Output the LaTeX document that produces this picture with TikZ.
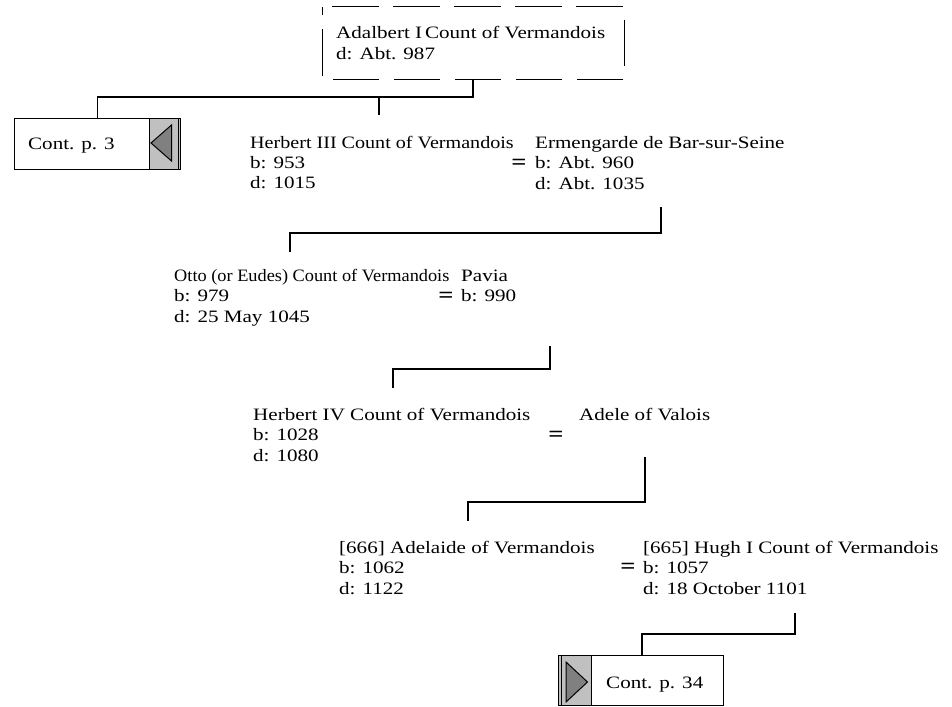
\documentclass[tikz,border=0pt]{standalone}
\usepackage{fontspec}
\usepackage{graphicx}
\setmainfont{Liberation Serif}[FakeStretch=1.21]
\definecolor{btngray}{HTML}{C0C0C0}
\definecolor{trigray}{HTML}{808080}
\newcommand\plines[1]{\vtop{\baselineskip=20.5pt\lineskiplimit=-30pt\lineskip=0pt #1}}
\begin{document}
\begin{tikzpicture}[x=1pt,y=-1pt,
  font=\fontsize{17.4}{20.5}\selectfont,
  person/.style={anchor=base west, inner sep=0pt},
  marr/.style={anchor=base, inner sep=0pt, font=\fontsize{22}{24}\selectfont\bfseries},
  link/.style={draw=black, line width=1.4pt},
  frame/.style={draw=black, line width=1.2pt, fill=white, inner sep=0pt, anchor=north west},
  btn/.style={fill=btngray, draw=black, line width=1pt, inner sep=0pt},
  tri/.style={fill=trigray, draw=black, line width=1pt, line join=miter},
  dashbox/.style={draw=black, line width=1pt, dash pattern=on 46.5pt off 14.5pt, dash phase=51pt}]
\useasboundingbox (0,0) rectangle (952,706);

% Adalbert
\node[inner sep=0pt, minimum width=302pt, minimum height=72pt, anchor=north west] (adalbox) at (322,7) {};
\draw[dashbox] (adalbox.north west) -- (adalbox.north east) -- (adalbox.south east) -- (adalbox.south west) -- cycle;
\node[person] (adal) at (336,39) {\plines{\hbox{Adalbert I\kern3pt Count of Vermandois}\hbox{d: Abt. 987}}};

% Cont. p. 3
\node[frame, minimum width=166pt, minimum height=51pt] (cont3) at (14,118) {};
\node[person] (cont3t) at (28,149) {Cont. p. 3};
\node[btn, minimum width=31pt, minimum height=51pt, anchor=north east] (cont3b) at (cont3.north east) {};
\draw[line width=0.8pt] ([xshift=-3pt]cont3b.north east) -- ([xshift=-3pt]cont3b.south east);
\draw[tri] (151,143) -- (171.5,125) -- (171.5,161) -- cycle;

% Generation 2
\node[person] (herb3) at (250,148) {\plines{\hbox{\scalebox{0.955}[1]{Herbert III Count of Vermandois}}\hbox{b: 953}\hbox{d: 1015}}};
\node[marr] (eq1) at (519,169.5) {=};
\node[person] (erm) at (535,148) {\plines{\hbox{Ermengarde de Bar-sur-Seine}\hbox{b: Abt. 960}\hbox{d: Abt. 1035}}};

% Generation 3
\node[person] (otto) at (174,281) {\plines{\hbox{\scalebox{0.87}[1]{Otto (or Eudes) Count of Vermandois}}\hbox{b: 979}\hbox{d: 25 May 1045}}};
\node[marr] (eq2) at (446,302.5) {=};
\node[person] (pavia) at (461,281) {\plines{\hbox{Pavia}\hbox{b: 990}}};

% Generation 4
\node[person] (herb4) at (253,420) {\plines{\hbox{Herbert IV Count of Vermandois}\hbox{b: 1028}\hbox{d: 1080}}};
\node[marr] (eq3) at (556,441.5) {=};
\node[person] (adele) at (579,420) {Adele of Valois};

% Generation 5
\node[person] (adel) at (339,553) {\plines{\hbox{[666] Adelaide of Vermandois}\hbox{b: 1062}\hbox{d: 1122}}};
\node[marr] (eq4) at (628,573.5) {=};
\node[person] (hugh) at (643,553) {\plines{\hbox{[665] Hugh I Count of Vermandois}\hbox{b: 1057}\hbox{d: 18 October 1101}}};

% Cont. p. 34
\node[frame, minimum width=165pt, minimum height=50pt] (cont34) at (558,655) {};
\node[btn, minimum width=33pt, minimum height=50pt, anchor=north west] (cont34b) at (cont34.north west) {};
\draw[line width=0.8pt] ([xshift=3pt]cont34b.north west) -- ([xshift=3pt]cont34b.south west);
\node[person] (cont34t) at (606,688) {Cont. p. 34};
\draw[tri] (566,662) -- (587.5,682) -- (566,702) -- cycle;

% connectors
\coordinate (j1) at (473,97);
\draw[link] (adalbox.south -| j1) -- (j1) -- (j1 -| cont3.north) -- (cont3.north);
\coordinate (j1b) at (379,97);
\coordinate (h3top) at (379,115);
\draw[link] (j1b) -- (h3top);

\coordinate (c2a) at (661,207);
\coordinate (c2b) at (661,233);
\coordinate (c2c) at (290,233);
\coordinate (ottotop) at (290,252);
\draw[link] (c2a) -- (c2b) -- (c2c) -- (ottotop);

\coordinate (c3a) at (550,346);
\coordinate (c3b) at (550,369);
\coordinate (c3c) at (393,369);
\coordinate (h4top) at (393,388);
\draw[link] (c3a) -- (c3b) -- (c3c) -- (h4top);

\coordinate (c4a) at (645,457);
\coordinate (c4b) at (645,502);
\coordinate (c4c) at (468,502);
\coordinate (adeltop) at (468,521);
\draw[link] (c4a) -- (c4b) -- (c4c) -- (adeltop);

\coordinate (c5a) at (795,613);
\coordinate (c5b) at (795,634);
\coordinate (c5c) at (642,634);
\draw[link] (c5a) -- (c5b) -- (c5c) -- (c5c |- cont34.north);
\end{tikzpicture}
\end{document}
